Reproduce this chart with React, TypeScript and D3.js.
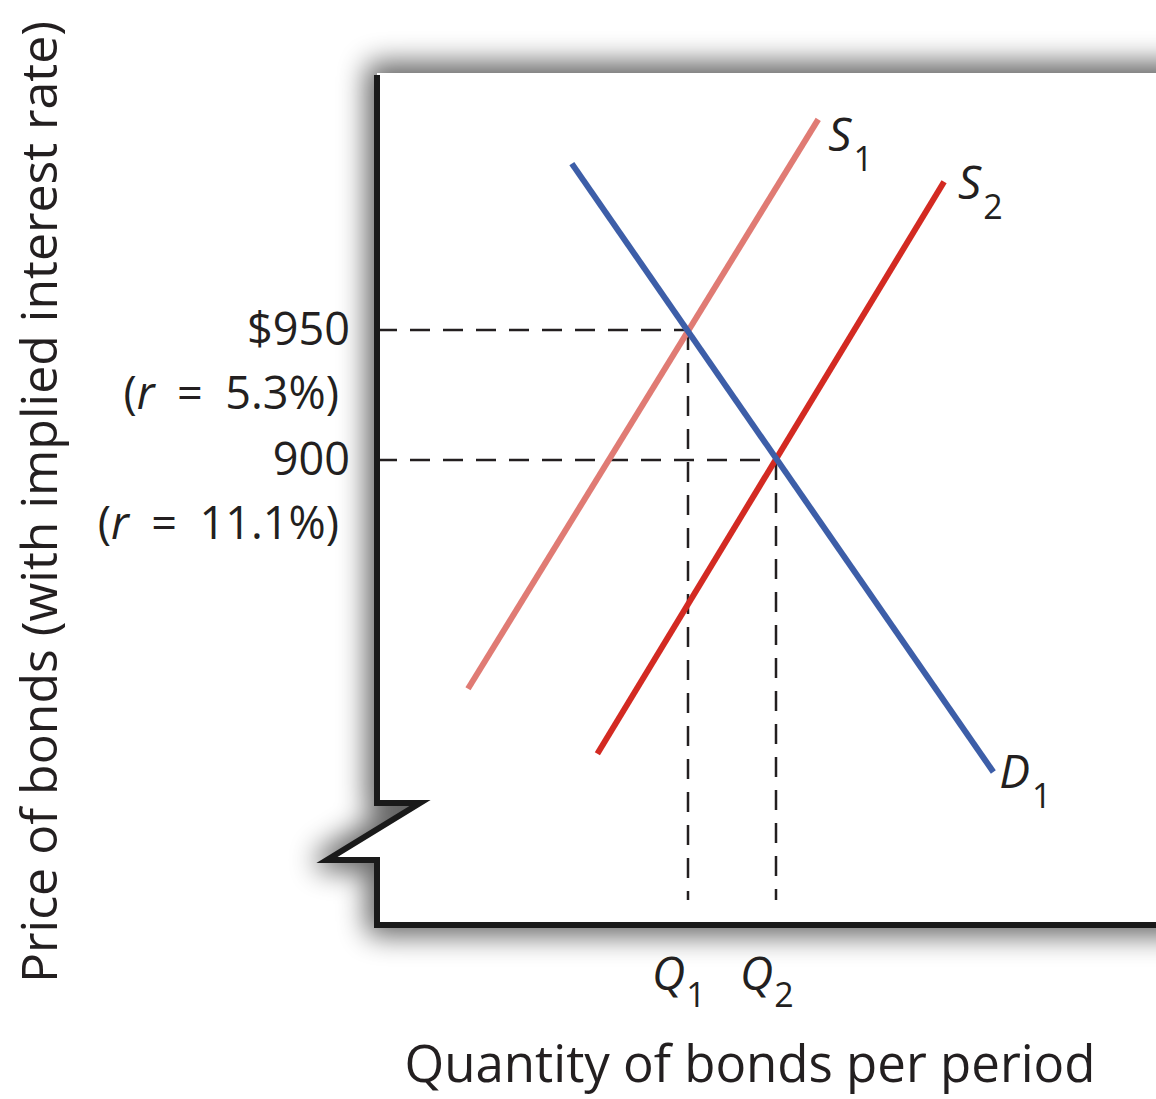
import React from 'react'
import * as d3 from 'd3'

// supply / demand endpoints: quantity (arbitrary units), price ($)
const supply1 = [
  { q: 1.5, p: 812 },
  { q: 5.48, p: 1031 },
]
const supply2 = [
  { q: 2.97, p: 787 },
  { q: 6.91, p: 1007 },
]
const demand1 = [
  { q: 2.68, p: 1014 },
  { q: 7.47, p: 780 },
]
// equilibria: Q1 at $950, Q2 at $900
const equilibria = [
  { q: 4, p: 950, qLabel: '1' },
  { q: 5, p: 900, qLabel: '2' },
]
const priceTicks = [
  { p: 950, label: '$950', rate: '5.3%' },
  { p: 900, label: '900', rate: '11.1%' },
]

const W = 1156
const H = 1099
const FONT = '"Open Sans", "DejaVu Sans", sans-serif'
const INK = '#231f20'

export default function App() {
  const x = d3.scaleLinear().domain([0, 10]).range([336, 1216])
  const y = d3.scaleLinear().domain([950, 900]).range([330, 460])

  const axisLeft = 377
  const axisTop = 73
  const axisBottom = 925
  const breakTop = 803
  const breakBot = 860

  const line = d3
    .line<{ q: number; p: number }>()
    .x(d => x(d.q))
    .y(d => y(d.p))

  const panel = `M${axisLeft},${axisTop} L${W + 40},${axisTop} L${W + 40},${axisBottom} L${axisLeft},${axisBottom} L${axisLeft},${breakBot} L${axisLeft - 50},${breakBot} L${axisLeft + 43},${breakTop} L${axisLeft},${breakTop} Z`
  const axisPath = `M${axisLeft},${axisTop + 2} L${axisLeft},${breakTop} L${axisLeft + 43},${breakTop} L${axisLeft - 50},${breakBot} L${axisLeft},${breakBot} L${axisLeft},${axisBottom} L${W + 10},${axisBottom}`

  const curveLabel = (pt: { q: number; p: number }, dx: number, dy: number, main: string, sub: string) => (
    <text x={x(pt.q) + dx} y={y(pt.p) + dy} fontFamily={FONT} fill={INK}>
      <tspan fontSize={46} fontStyle="italic">{main}</tspan>
      <tspan fontSize={34} dy={20} dx={2}>{sub}</tspan>
    </text>
  )

  return (
    <svg width={W} height={H} style={{ position: 'absolute', left: 0, top: 0, background: '#fff' }}>
      <defs>
        <filter id="shadow" x="-15%" y="-15%" width="130%" height="130%">
          <feGaussianBlur stdDeviation="14" />
        </filter>
      </defs>
      <rect width={W} height={H} fill="#fff" />
      <path
        d={panel}
        fill="#000"
        stroke="#000"
        strokeWidth={22}
        strokeLinejoin="round"
        opacity={0.6}
        filter="url(#shadow)"
      />
      <path d={panel} fill="#fff" />

      {/* dashed guides */}
      {equilibria.map((e, i) => (
        <g key={i} stroke={INK} strokeWidth={2.5} strokeDasharray="20 13" fill="none">
          <line x1={axisLeft} x2={x(e.q)} y1={y(e.p)} y2={y(e.p)} />
          <line x1={x(e.q)} x2={x(e.q)} y1={y(e.p)} y2={900} />
        </g>
      ))}

      {/* curves */}
      <path d={line(supply1)!} stroke="#e07b74" strokeWidth={6} fill="none" />
      <path d={line(supply2)!} stroke="#d32a22" strokeWidth={6} fill="none" />
      <path d={line(demand1)!} stroke="#3d5ea8" strokeWidth={6} fill="none" />

      {/* axes */}
      <path d={axisPath} stroke="#1a1a1a" strokeWidth={6} fill="none" strokeLinejoin="miter" />

      {/* curve labels */}
      {curveLabel(supply1[1], 10, 32, 'S', '1')}
      {curveLabel(supply2[1], 14, 17, 'S', '2')}
      {curveLabel(demand1[1], 6, 16, 'D', '1')}

      {/* price tick labels */}
      {priceTicks.map((t, i) => (
        <g key={i} fontFamily={FONT} fontSize={45} fill={INK} textAnchor="end">
          <text x={350} y={y(t.p) + 15}>{t.label}</text>
          <text x={339} y={y(t.p) + 79}>
            (<tspan fontStyle="italic">r</tspan>{'\u2002=\u2002'}{t.rate})
          </text>
        </g>
      ))}

      {/* quantity labels */}
      {equilibria.map((e, i) => (
        <text key={i} x={x(e.q) - 36} y={990} fontFamily={FONT} fill={INK}>
          <tspan fontSize={46} fontStyle="italic">Q</tspan>
          <tspan fontSize={34} dy={17} dx={1}>{e.qLabel}</tspan>
        </text>
      ))}

      {/* axis titles */}
      <text x={750} y={1082} textAnchor="middle" fontFamily={FONT} fontSize={51} fill={INK}>
        Quantity of bonds per period
      </text>
      <text
        transform="translate(57,502) rotate(-90)"
        textAnchor="middle"
        fontFamily={FONT}
        fontSize={50}
        fill={INK}
      >
        Price of bonds (with implied interest rate)
      </text>
    </svg>
  )
}
